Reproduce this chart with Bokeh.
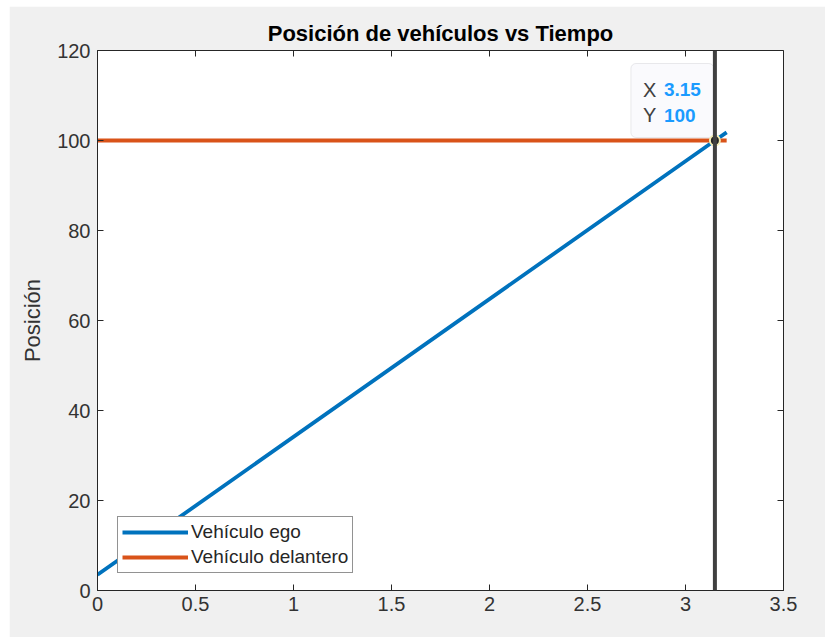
import math

from bokeh.plotting import figure
from bokeh.models import (Range1d, Span, BoxAnnotation, Legend,
                          LegendItem, Spacer, FixedTicker)
from bokeh.layouts import column, row
from bokeh.core.properties import value
from bokeh.embed import file_html
from bokeh.resources import INLINE

# --- data -----------------------------------------------------------------
tiempo = [0.0, 3.15, 3.21]
pos_ego = [3.5, 100.0, 101.8]
pos_delantero = [100.0, 100.0, 100.0]

tip_x = 3.15
tip_y = 100
tip_x_text = "3.15"
tip_y_text = "100"

x_ticks = [0, 0.5, 1, 1.5, 2, 2.5, 3, 3.5]
x_tick_labels = ["0", "0.5", "1", "1.5", "2", "2.5", "3", "3.5"]
y_ticks = [0, 20, 40, 60, 80, 100, 120]
y_tick_labels = ["0", "20", "40", "60", "80", "100", "120"]

titulo = "Posición de vehículos vs Tiempo"
etiqueta_y = "Posición"
nombres = ["Vehículo ego", "Vehículo delantero"]

# --- styling --------------------------------------------------------------
FONT = "Liberation Sans"
AX_COLOR = "#262626"
LBL_COLOR = "#333333"
BG = "#f0f0f0"
BLUE = "#0072BD"
ORANGE = "#D95319"

FRAME_W, FRAME_H = 686, 540
X0, X1 = 0, 3.5
Y0, Y1 = 0, 120
TICK_LEN = 6

p = figure(width=816, height=631, output_backend="svg", toolbar_location=None,
           x_range=Range1d(X0, X1), y_range=Range1d(Y0, Y1),
           min_border_left=88, min_border_right=42,
           min_border_top=44, min_border_bottom=47,
           background_fill_color="white", border_fill_color=BG,
           outline_line_color=AX_COLOR, outline_line_width=1)
p.grid.visible = False

p.title.text = titulo
p.title.align = "center"
p.title.text_font = FONT
p.title.text_font_size = "22px"
p.title.text_font_style = "bold"
p.title.text_color = "black"


def style_axis(ax, ticks, labels):
    ax.ticker = FixedTicker(ticks=ticks)
    ax.major_label_overrides = {t: l for t, l in zip(ticks, labels)}
    ax.major_tick_in = TICK_LEN
    ax.major_tick_out = 0
    ax.minor_tick_line_color = None
    ax.axis_line_color = AX_COLOR
    ax.major_tick_line_color = AX_COLOR
    ax.major_label_text_font = FONT
    ax.major_label_text_color = LBL_COLOR
    ax.major_label_text_font_size = "20px"


style_axis(p.xaxis[0], x_ticks, x_tick_labels)
p.xaxis[0].major_label_standoff = 6
style_axis(p.yaxis[0], y_ticks, y_tick_labels)
p.yaxis[0].major_label_standoff = 7
p.yaxis[0].axis_label = etiqueta_y
p.yaxis[0].axis_label_text_font = FONT
p.yaxis[0].axis_label_text_font_size = "22px"
p.yaxis[0].axis_label_text_font_style = "normal"
p.yaxis[0].axis_label_text_color = LBL_COLOR
p.yaxis[0].axis_label_standoff = 9

# inward ticks on the top and right edges of the box (clipped to the frame,
# so only the inner half of each dash shows)
p.scatter(x_ticks, [Y1] * len(x_ticks), marker="dash", size=2 * TICK_LEN,
          angle=math.pi / 2, line_color=AX_COLOR, line_width=1)
p.scatter([X1] * len(y_ticks), y_ticks, marker="dash", size=2 * TICK_LEN,
          line_color=AX_COLOR, line_width=1)

# --- series ---------------------------------------------------------------
r_ego = p.line(tiempo, pos_ego, line_color=BLUE, line_width=3.8)
r_del = p.line(tiempo, pos_delantero, line_color=ORANGE, line_width=3.8)

# cursor line through the data tip
p.add_layout(Span(location=tip_x, dimension="height",
                  line_color="#404040", line_width=4))

# data tip box, placed a few pixels up-left of the tip point
px_x = FRAME_W / (X1 - X0)
px_y = FRAME_H / (Y1 - Y0)
box = BoxAnnotation(left=tip_x - 84 / px_x, right=tip_x - 1 / px_x,
                    top=tip_y + 77 / px_y, bottom=tip_y + 3 / px_y,
                    fill_color="#fafafd", fill_alpha=1.0,
                    line_color="#b9b9c0", line_width=1, border_radius=5,
                    level="underlay")
p.add_layout(box)

p.scatter([tip_x], [tip_y], size=10, fill_color="#262626",
          line_color="#f2ecb4", line_width=2)

p.text([tip_x, tip_x], [tip_y, tip_y], text=["X", "Y"],
       x_offset=-72, y_offset=[-51, -25.5],
       text_font=value(FONT), text_font_size="20px", text_color="#404040",
       text_align="left", text_baseline="middle")
p.text([tip_x, tip_x], [tip_y, tip_y], text=[tip_x_text, tip_y_text],
       x_offset=-51, y_offset=[-51, -25.5],
       text_font=value(FONT), text_font_size="19px", text_font_style="bold",
       text_color="#1a9bff", text_align="left", text_baseline="middle")

# --- legend ---------------------------------------------------------------
legend = Legend(items=[LegendItem(label=nombres[0], renderers=[r_ego]),
                       LegendItem(label=nombres[1], renderers=[r_del])],
                location=(20, 17), orientation="vertical",
                label_text_font=FONT, label_text_font_size="19px",
                label_text_color=AX_COLOR,
                glyph_width=66, glyph_height=22, label_height=22,
                label_standoff=3, padding=4, spacing=3, margin=0,
                border_line_color=AX_COLOR, border_line_width=1,
                background_fill_color="white", background_fill_alpha=1.0)
p.add_layout(legend, "center")

layout = column(Spacer(height=6), row(Spacer(width=9), p))

open("out.html", "w").write(file_html(layout, INLINE))
